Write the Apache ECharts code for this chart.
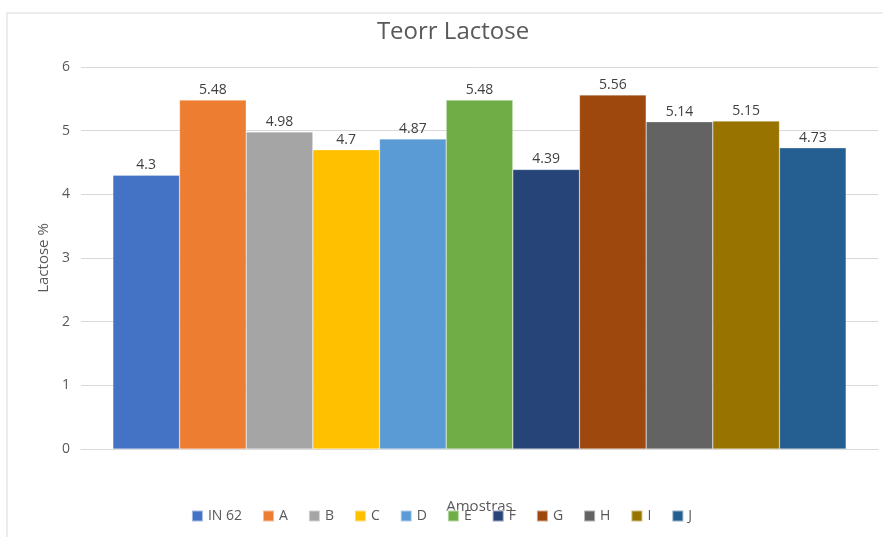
<!DOCTYPE html>
<html>
<head>
<meta charset="utf-8">
<script src="https://cdn.jsdelivr.net/npm/echarts@6/dist/echarts.min.js"></script>
<style>
  html, body { margin: 0; padding: 0; background: #fff; }
  #chart { width: 883px; height: 537px; }
</style>
</head>
<body>
<div id="chart"></div>
<script>
// amostras e valores de lactose
const amostras = ['IN 62', 'A', 'B', 'C', 'D', 'E', 'F', 'G', 'H', 'I', 'J']
const lactose = [4.3, 5.48, 4.98, 4.7, 4.87, 5.48, 4.39, 5.56, 5.14, 5.15, 4.73]
const yTicks = [0, 1, 2, 3, 4, 5, 6]
const cores = ['#4472C4', '#ED7D31', '#A5A5A5', '#FFC000', '#5B9BD5', '#70AD47',
  '#264478', '#9E480E', '#636363', '#997300', '#255E91']

const fonte = '"Open Sans", "Liberation Sans", sans-serif'
const chart = echarts.init(document.getElementById('chart'))

const series = amostras.map((nome, i) => ({
  name: nome,
  type: 'bar',
  data: [lactose[i]],
  barGap: 0,
  barCategoryGap: '8%',
  itemStyle: {
    color: cores[i],
    borderColor: 'rgba(255,255,255,0.5)',
    borderWidth: 0.5
  },
  label: {
    show: true,
    position: 'top',
    distance: 3,
    color: '#404040',
    fontSize: 14,
    fontFamily: fonte
  }
}))

const options = {
  animation: false,
  color: cores,
  graphic: [{
    type: 'rect',
    shape: { x: 7, y: 13, width: 900, height: 540 },
    style: { fill: 'none', stroke: '#d9d9d9', lineWidth: 1 },
    silent: true,
    z: -1
  }],
  title: {
    text: 'Teorr Lactose',
    left: 448,
    textAlign: 'center',
    top: 15,
    textStyle: {
      color: '#595959',
      fontSize: 24,
      fontWeight: 'normal',
      fontFamily: fonte
    }
  },
  legend: {
    bottom: 9,
    left: 'center',
    itemWidth: 11,
    itemHeight: 11,
    itemGap: 20,
    icon: 'rect',
    textStyle: { color: '#595959', fontSize: 14, fontFamily: fonte },
    data: amostras
  },
  grid: { left: 81, right: 5, top: 67, bottom: 88, containLabel: false },
  xAxis: {
    type: 'category',
    data: [''],
    name: 'Amostras',
    nameLocation: 'middle',
    nameGap: 50,
    nameTextStyle: { color: '#595959', fontSize: 15, fontFamily: fonte },
    axisLine: { lineStyle: { color: '#d9d9d9' } },
    axisTick: { show: false },
    axisLabel: { show: false }
  },
  yAxis: {
    type: 'value',
    min: yTicks[0],
    max: yTicks[yTicks.length - 1],
    interval: 1,
    name: 'Lactose %',
    nameLocation: 'middle',
    nameGap: 30,
    nameTextStyle: { color: '#595959', fontSize: 15, fontFamily: fonte },
    axisLine: { show: false },
    axisTick: { show: false },
    axisLabel: { color: '#595959', fontSize: 14, margin: 11, fontFamily: fonte },
    splitLine: { lineStyle: { color: '#d9d9d9' } }
  },
  series: series
}

chart.setOption(options, true)
</script>
</body>
</html>
